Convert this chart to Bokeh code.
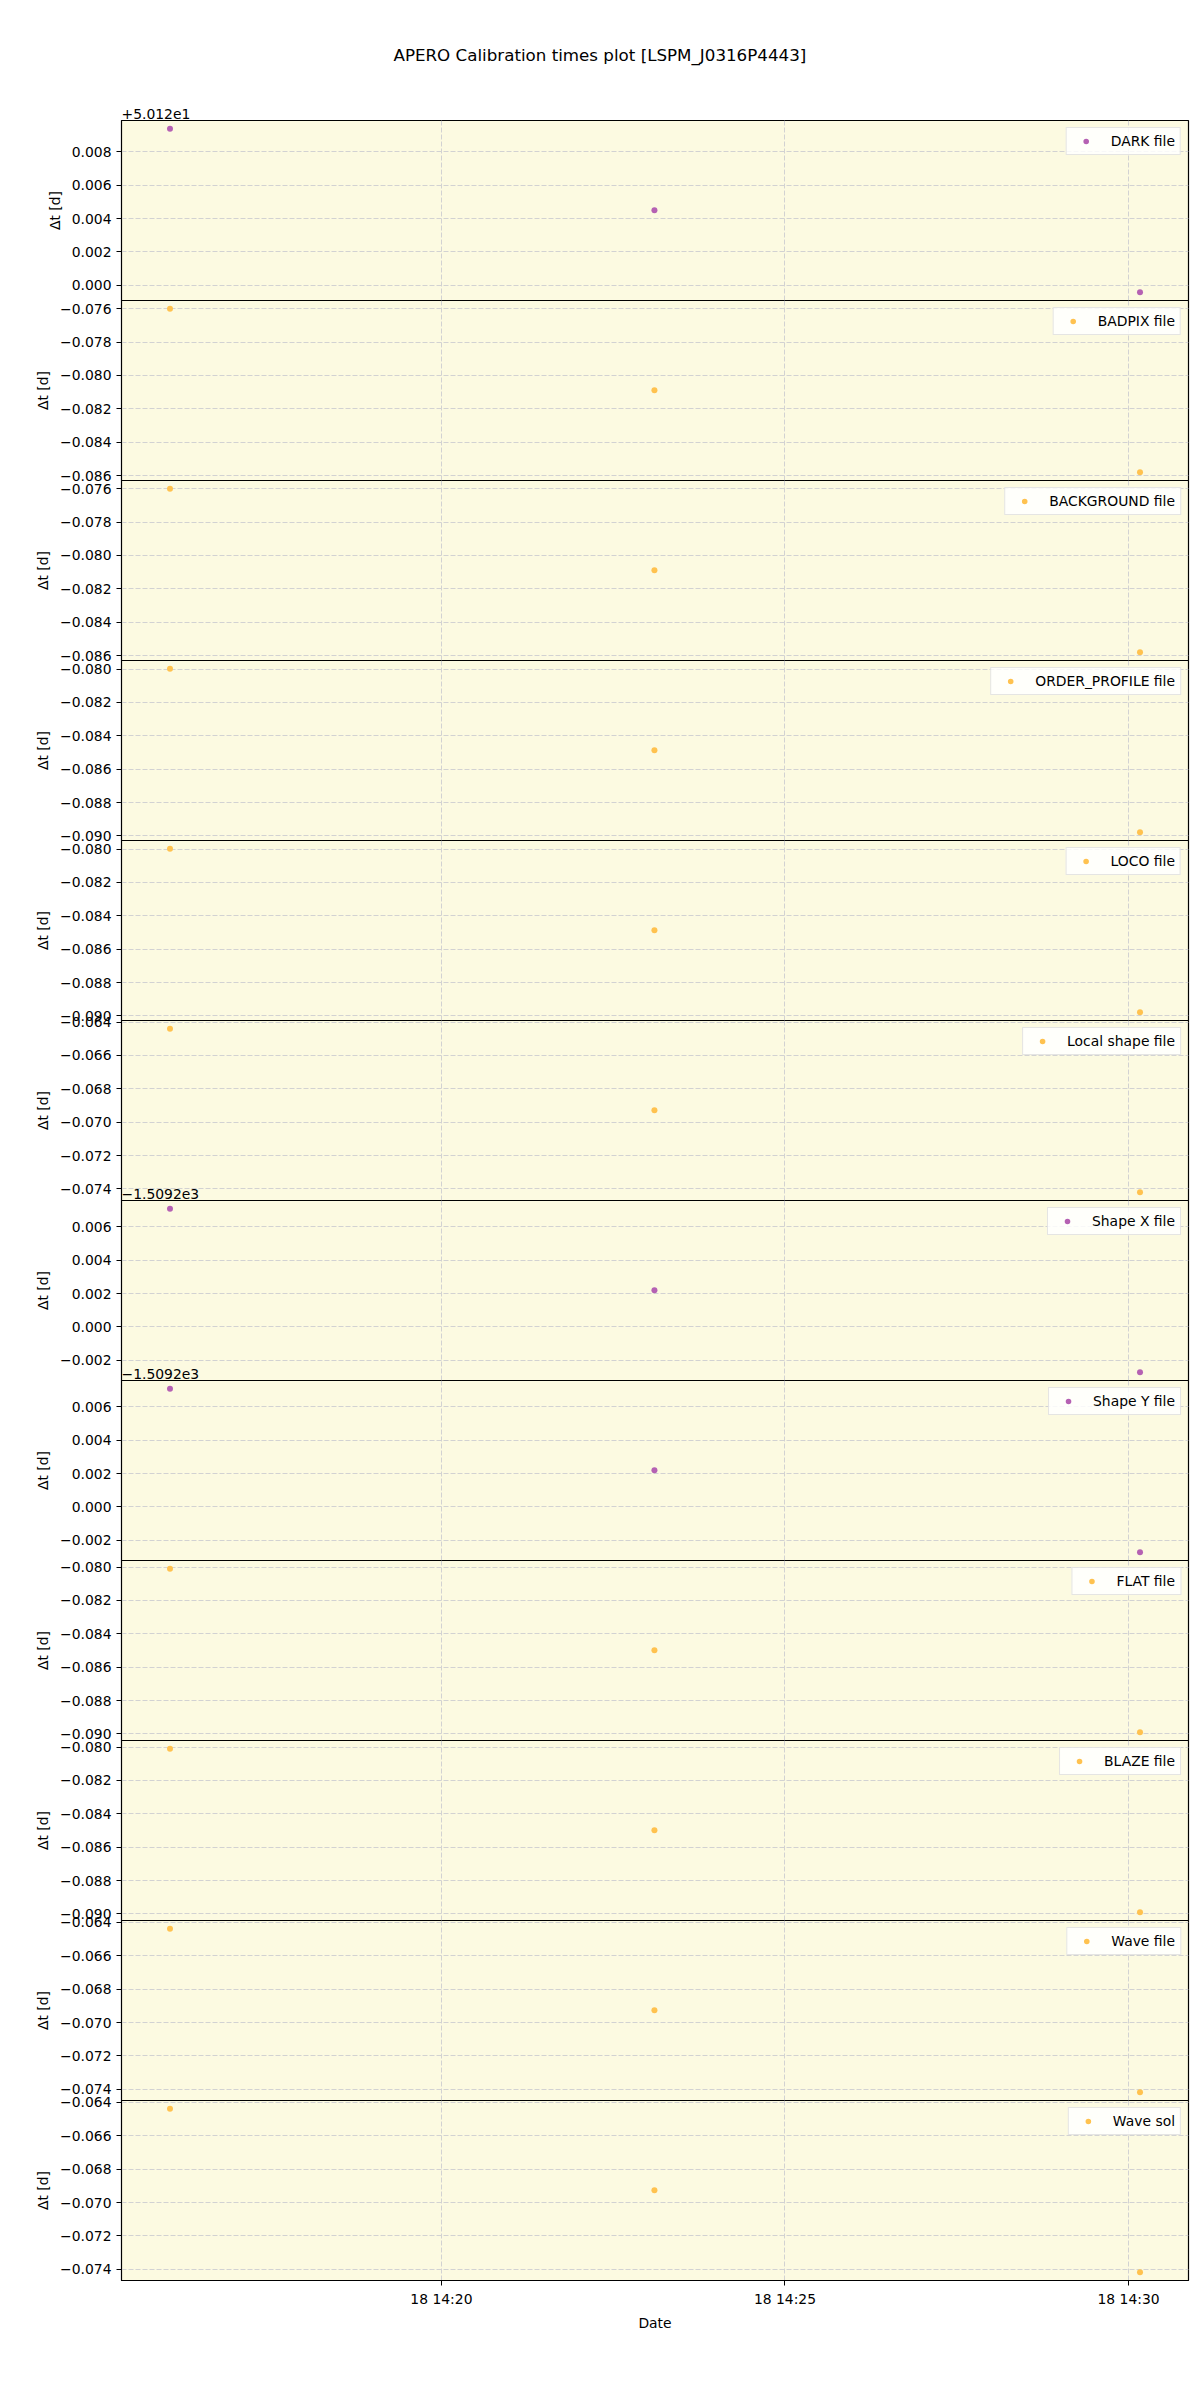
import numpy as np
import pandas as pd
from bokeh.plotting import figure
from bokeh.layouts import column
from bokeh.models import (Range1d, SingleIntervalTicker, FixedTicker, Grid, DatetimeAxis,
                          DatetimeTickFormatter, CustomJSTickFormatter, Title)
from bokeh.embed import file_html
from bokeh.resources import INLINE

# ---------------- data ----------------
title_text = "APERO Calibration times plot [LSPM_J0316P4443]"
obs_times = ["2020-10-18 14:16:03", "2020-10-18 14:23:06", "2020-10-18 14:30:10"]
x_tick_times = ["2020-10-18 14:20:00", "2020-10-18 14:25:00", "2020-10-18 14:30:00"]

file_labels = ["DARK file", "BADPIX file", "BACKGROUND file", "ORDER_PROFILE file",
               "LOCO file", "Local shape file", "Shape X file", "Shape Y file",
               "FLAT file", "BLAZE file", "Wave file", "Wave sol"]

dark_dt = [50.12938, 50.12449, 50.11958]
badpix_dt = [-0.07600, -0.08089, -0.08580]
background_dt = [-0.07600, -0.08089, -0.08580]
order_profile_dt = [-0.07998, -0.08487, -0.08978]
loco_dt = [-0.07998, -0.08487, -0.08978]
local_shape_dt = [-0.06440, -0.06929, -0.07420]
shape_x_dt = [-1509.19292, -1509.19781, -1509.20272]
shape_y_dt = [-1509.19292, -1509.19781, -1509.20272]
flat_dt = [-0.08010, -0.08499, -0.08990]
blaze_dt = [-0.08010, -0.08499, -0.08990]
wave_file_dt = [-0.06438, -0.06927, -0.07418]
wave_sol_dt = [-0.06438, -0.06927, -0.07418]

series_values = [dark_dt, badpix_dt, background_dt, order_profile_dt, loco_dt,
                 local_shape_dt, shape_x_dt, shape_y_dt, flat_dt, blaze_dt,
                 wave_file_dt, wave_sol_dt]

# axis offsets (as shown by the tick-label offset text)
axis_offsets = [50.12, 0, 0, 0, 0, 0, -1509.2, -1509.2, 0, 0, 0, 0]
offset_texts = ["+5.012e1", "", "", "", "", "", "\u22121.5092e3", "\u22121.5092e3",
                "", "", "", ""]

PURPLE = "#b561b3"
ORANGE = "#ffc24f"
series_colors = [PURPLE, ORANGE, ORANGE, ORANGE, ORANGE, ORANGE, PURPLE, PURPLE,
                 ORANGE, ORANGE, ORANGE, ORANGE]

# ---------------- style ----------------
FONT = "DejaVu Sans"
BG = "#fcfae1"
GRID = "#d2d2d2"
TICK_FS = "13.9px"
T_BORDER = 26      # transparent border above each lower panel
B_BORDER = 26      # transparent border below each upper panel
FIRST_TOP = 160    # top border of the first panel
FIRST_SHIFT = 40   # pulled up so the first frame starts at y = 120

obs_dt = pd.to_datetime(obs_times)
x_ms = obs_dt.to_numpy().astype("datetime64[ms]").astype(np.int64).astype(float)
xt_ms = pd.to_datetime(x_tick_times).to_numpy().astype("datetime64[ms]").astype(np.int64).astype(float)
xspan = x_ms.max() - x_ms.min()
x_range = Range1d(start=x_ms.min() - 0.05 * xspan, end=x_ms.max() + 0.05 * xspan)

fmt_code = """
let v = tick - off;
if (Math.abs(v) < 1e-9) { v = 0; }
return v.toFixed(3).replace('-', '\u2212');
"""

n = len(series_values)
figs = []
for i in range(n):
    first = (i == 0)
    last = (i == n - 1)
    vals = series_values[i]
    lo, hi = min(vals), max(vals)
    span = hi - lo
    yr = Range1d(start=lo - 0.05 * span, end=hi + 0.05 * span)
    top_b = FIRST_TOP if first else T_BORDER
    bot_b = 110 if last else B_BORDER
    p = figure(frame_width=1067, frame_height=180,
               x_range=x_range, y_range=yr,
               x_axis_location=None, tools="",
               toolbar_location=None, output_backend="svg",
               min_border_left=121, min_border_right=12,
               min_border_top=top_b, min_border_bottom=bot_b,
               background_fill_color=BG, border_fill_color="white",
               border_fill_alpha=1.0 if first else 0.0,
               outline_line_color="black", outline_line_width=1.2)
    if first:
        p.margin = (-FIRST_SHIFT, 0, 0, 0)
    else:
        p.margin = (-(B_BORDER + T_BORDER), 0, 0, 0)
        p.border_fill_alpha = 0.0

    # drop the automatic x grid (its hidden axis would use its own ticker)
    p.center = [r for r in p.center if not (isinstance(r, Grid) and r.dimension == 0)]

    # offset text (matplotlib style) just above the panel's top-left corner
    if offset_texts[i]:
        p.add_layout(Title(text=offset_texts[i], align="left", offset=0, standoff=3,
                           text_font=FONT, text_font_size=TICK_FS,
                           text_font_style="normal", text_color="black"), "above")
    if first:
        p.add_layout(Title(text=title_text, align="left", offset=272, standoff=81,
                           text_font=FONT, text_font_size="16.7px",
                           text_font_style="normal", text_color="black"), "above")

    # y axis
    ya = p.yaxis[0]
    ya.ticker = SingleIntervalTicker(interval=0.002, num_minor_ticks=0)
    ya.formatter = CustomJSTickFormatter(args={"off": axis_offsets[i]}, code=fmt_code)
    ya.axis_label = "\u0394t [d]"
    ya.axis_label_text_font = FONT
    ya.axis_label_text_font_size = TICK_FS
    ya.axis_label_text_font_style = "normal"
    ya.axis_label_text_color = "black"
    ya.axis_label_standoff = 6
    ya.major_label_text_font = FONT
    ya.major_label_text_font_size = TICK_FS
    ya.major_label_text_color = "black"
    ya.major_label_standoff = 5
    ya.major_tick_out = 5
    ya.major_tick_in = 0
    ya.minor_tick_out = 0
    ya.minor_tick_in = 0
    ya.axis_line_color = "black"
    ya.major_tick_line_color = "black"

    p.ygrid.grid_line_color = GRID
    p.ygrid.grid_line_dash = "5 2"
    p.ygrid.grid_line_width = 1

    p.add_layout(Grid(dimension=0, ticker=FixedTicker(ticks=list(xt_ms)),
                      grid_line_color=GRID, grid_line_dash="5 2", grid_line_width=1))

    if last:
        xa = DatetimeAxis(ticker=FixedTicker(ticks=list(xt_ms)),
                          formatter=DatetimeTickFormatter(
                              microseconds="%d %H:%M", milliseconds="%d %H:%M",
                              seconds="%d %H:%M", minsec="%d %H:%M", minutes="%d %H:%M",
                              hourmin="%d %H:%M", hours="%d %H:%M", days="%d %H:%M",
                              months="%d %H:%M", years="%d %H:%M"),
                          axis_label="Date")
        xa.axis_label_text_font = FONT
        xa.axis_label_text_font_size = TICK_FS
        xa.axis_label_text_font_style = "normal"
        xa.axis_label_text_color = "black"
        xa.axis_label_standoff = 5
        xa.major_label_text_font = FONT
        xa.major_label_text_font_size = TICK_FS
        xa.major_label_text_color = "black"
        xa.major_label_standoff = 5
        xa.major_tick_out = 5
        xa.major_tick_in = 0
        xa.minor_tick_out = 0
        xa.minor_tick_in = 0
        xa.axis_line_color = "black"
        p.add_layout(xa, "below")

    p.scatter(x=x_ms, y=vals, size=6, color=series_colors[i], line_color=None,
              legend_label=file_labels[i])
    lg = p.legend[0]
    lg.location = "top_right"
    lg.margin = 7
    lg.padding = 5
    lg.spacing = 0
    lg.glyph_width = 28
    lg.glyph_height = 14
    lg.label_height = 14
    lg.label_standoff = 11
    lg.label_text_font = FONT
    lg.label_text_font_size = TICK_FS
    lg.label_text_color = "black"
    lg.border_line_color = "#cccccc"
    lg.border_line_width = 1
    lg.background_fill_color = "white"
    lg.background_fill_alpha = 0.85
    figs.append(p)

layout = column(*figs, spacing=0)
open("out.html", "w").write(file_html(layout, INLINE, title=title_text))
